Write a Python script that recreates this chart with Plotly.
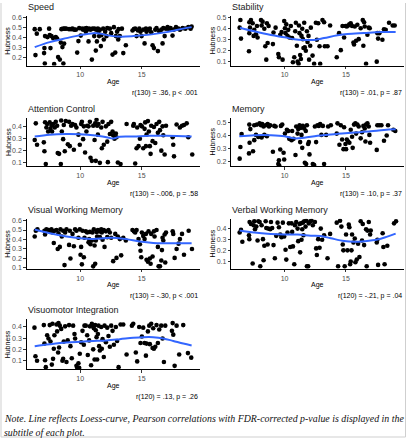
import plotly.graph_objects as go

# ---------------- data (age, hubness) ----------------
speed = [(6.31,.48),(6.48,.435),(6.37,.22),(6.72,.48),(7.15,.41),(7.10,.29),(7.07,.24),(7.13,.135),(7.48,.485),(7.35,.40),
(7.53,.42),(7.67,.41),(7.59,.29),(7.80,.39),(7.89,.13),(8.02,.40),(8.13,.385),(8.21,.20),(8.35,.175),(8.43,.345),
(8.48,.48),(8.56,.30),(8.64,.135),(8.62,.485),(8.75,.485),(8.70,.335),(8.86,.485),
(9.10,.48),(9.27,.48),(9.38,.485),(9.51,.475),(9.76,.245),(9.86,.36),(9.65,.475),(9.92,.49),(10.05,.415),(10.16,.485),
(10.24,.475),(10.38,.485),(10.51,.49),(10.46,.455),(10.57,.475),(10.68,.357),(10.73,.485),(10.84,.475),(10.95,.175),(11.00,.485),
(11.14,.41),(11.17,.485),(11.27,.265),(11.30,.475),(11.36,.357),(11.44,.485),(11.49,.455),(11.60,.475),(11.68,.31),(11.54,.41),
(11.73,.42),(11.87,.485),(11.92,.376),(12.03,.455),(12.14,.41),(12.20,.49),(12.41,.485),(12.52,.44),(12.63,.225),(12.74,.50),
(12.85,.245),(12.90,.41),(13.00,.455),(13.12,.48),(13.22,.41),(13.39,.485),(13.50,.24),(13.71,.318),(13.09,.376),
(14.25,.467),(14.36,.48),(14.47,.485),(14.58,.41),(14.69,.467),(14.80,.485),(14.90,.455),(14.99,.41),(15.12,.475),(15.23,.337),
(15.34,.485),(15.39,.455),(15.53,.475),(15.66,.485),(15.77,.448),(15.88,.318),(15.99,.29),(16.10,.475),(16.20,.49),(16.31,.26),
(16.42,.46),(16.59,.475),(16.69,.337),(16.75,.49),(16.86,.41),(16.97,.485),(17.10,.50),(17.24,.475),(17.34,.49),(17.50,.415),
(17.60,.475),(17.78,.50),(17.97,.485),(18.10,.475),(18.32,.49),(18.54,.485),(18.78,.50),(18.97,.485),(19.05,.505)]
speed_loess = [(6.31,.30),(7.53,.35),(8.89,.39),(10.0,.42),(11.06,.44),(11.6,.435),(12.4,.415),(13.22,.405),(14.31,.41),
(15.66,.425),(17.02,.45),(18.37,.485),(19.05,.50)]

stability = [(6.40,.48),(6.45,.31),(6.34,.41),(7.10,.195),(7.13,.46),(7.26,.48),(7.18,.41),(7.13,.36),(7.40,.45),(7.48,.335),
(7.53,.39),(7.67,.35),(7.75,.425),(7.80,.32),(8.08,.48),(8.13,.43),(8.21,.465),(8.35,.40),(8.43,.24),(8.51,.118),
(8.56,.45),(8.62,.27),(8.70,.425),(9.05,.26),(9.10,.365),(9.27,.41),(9.49,.17),(9.54,.14),(9.65,.345),(9.76,.37),
(9.84,.118),(9.97,.47),(10.03,.405),(10.08,.36),(10.14,.44),(10.24,.335),(10.30,.39),(10.40,.32),(10.51,.425),(10.62,.315),
(10.68,.094),(10.79,.14),(10.87,.377),(10.92,.455),(11.00,.245),(11.06,.10),(11.14,.08),(11.17,.43),(11.22,.36),(11.27,.16),
(11.33,.124),(11.38,.335),(11.44,.40),(11.49,.305),(11.54,.225),(11.60,.455),(11.65,.23),(11.73,.20),(11.82,.377),(11.87,.28),
(11.95,.335),(12.00,.118),(12.09,.245),(12.14,.41),(12.28,.155),(12.41,.08),(12.55,.455),(12.63,.30),(12.74,.45),(12.85,.24),
(12.90,.08),(13.09,.48),(13.22,.46),(13.28,.24),(13.50,.24),(13.71,.43),(14.25,.14),(14.44,.36),(14.58,.205),(14.72,.425),
(14.85,.32),(14.96,.425),(15.07,.42),(15.18,.43),(15.28,.44),(15.39,.45),(15.50,.425),(15.61,.275),(15.66,.256),(15.72,.42),
(15.83,.29),(15.93,.437),(16.04,.305),(16.20,.405),(16.37,.48),(16.42,.245),(16.48,.46),(16.53,.42),(16.64,.08),(16.75,.345),
(16.86,.41),(16.94,.405),(17.56,.36),(17.62,.31),(17.72,.36),(17.51,.10),(17.97,.30),(18.10,.395),(18.24,.39),(18.51,.455),
(18.81,.43),(18.97,.43)]
stability_loess = [(6.37,.41),(7.53,.377),(8.89,.343),(10.0,.322),(10.79,.305),(11.6,.298),(12.41,.298),(13.22,.315),
(14.31,.34),(15.12,.353),(16.48,.362),(17.83,.37),(19.05,.37)]

attention = [(6.31,.29),(6.40,.43),(6.50,.25),(7.05,.27),(7.10,.195),(7.15,.44),(7.21,.087),(7.26,.395),(7.32,.425),(7.40,.362),
(7.53,.438),(7.59,.384),(7.67,.41),(7.72,.362),(7.80,.425),(7.94,.395),(8.02,.443),(8.13,.41),(8.18,.18),(8.29,.173),
(8.43,.087),(8.46,.454),(8.51,.362),(8.62,.297),(8.67,.416),(8.75,.195),(8.83,.449),(9.00,.254),(9.10,.443),(9.16,.238),
(9.27,.41),(9.38,.425),(9.49,.208),(9.59,.416),(9.70,.395),(9.86,.335),(9.97,.25),(10.08,.425),(10.14,.443),(10.24,.297),
(10.30,.405),(10.40,.184),(10.51,.362),(10.57,.41),(10.68,.405),(10.79,.443),(10.84,.14),(10.95,.114),(11.06,.41),(11.17,.29),
(11.22,.43),(11.27,.114),(11.33,.46),(11.38,.41),(11.44,.335),(11.49,.425),(11.60,.097),(11.71,.395),(11.76,.22),(11.82,.443),
(11.92,.25),(12.09,.405),(12.20,.276),(12.25,.103),(12.30,.425),(12.41,.34),(12.52,.443),(12.63,.362),(12.68,.33),(12.79,.30),
(12.90,.345),(12.95,.313),(13.06,.10),(13.28,.087),(13.77,.425),(14.31,.41),(14.36,.425),(14.47,.092),(14.58,.22),(14.63,.395),
(14.74,.238),(14.85,.30),(14.90,.416),(15.01,.405),(15.12,.22),(15.23,.384),(15.28,.438),(15.34,.238),(15.39,.335),(15.50,.449),
(15.58,.362),(15.66,.238),(15.72,.173),(15.77,.41),(15.88,.28),(15.99,.40),(16.10,.265),(16.20,.425),(16.31,.35),(16.42,.443),
(16.48,.373),(16.59,.20),(16.69,.405),(16.75,.33),(16.86,.168),(16.97,.41),(17.51,.313),(17.56,.25),(17.62,.152),(17.83,.42),
(18.10,.395),(18.27,.41),(18.43,.416),(18.65,.43),(18.78,.313),(19.10,.168)]
attention_loess = [(6.31,.32),(7.53,.335),(8.89,.34),(10.0,.338),(11.06,.33),(12.14,.313),(12.68,.302),(13.22,.318),
(14.31,.32),(15.66,.325),(17.02,.325),(19.05,.32)]

memory = [(6.34,.222),(6.40,.313),(6.50,.414),(7.10,.263),(7.13,.487),(7.15,.346),(7.21,.452),(7.43,.28),(7.53,.366),(7.53,.482),
(7.67,.407),(7.75,.487),(7.86,.39),(7.97,.497),(8.08,.482),(8.13,.387),(8.18,.492),(8.29,.472),(8.35,.407),(8.46,.482),
(8.56,.397),(8.62,.492),(8.73,.472),(8.83,.482),(9.05,.276),(9.16,.477),(9.27,.472),(9.49,.18),(9.54,.21),(9.57,.167),
(9.65,.293),(9.70,.477),(9.81,.487),(9.92,.268),(9.97,.215),(10.03,.417),(10.19,.447),(10.30,.437),(10.38,.376),(10.57,.366),
(10.62,.437),(10.73,.376),(10.89,.25),(10.95,.472),(11.06,.417),(11.11,.452),(11.22,.482),(11.27,.351),(11.33,.462),(11.38,.407),
(11.44,.306),(11.49,.477),(11.60,.457),(11.65,.19),(11.73,.437),(11.76,.18),(11.82,.482),(11.92,.336),(11.98,.351),(12.03,.255),
(12.30,.18),(12.41,.172),(12.47,.472),(12.57,.351),(12.68,.482),(12.79,.477),(12.90,.492),(13.00,.407),(13.12,.477),(13.22,.18),
(13.39,.407),(13.55,.472),(13.77,.482),(14.25,.417),(14.31,.497),(14.47,.33),(14.58,.482),(14.69,.371),(14.80,.296),(14.85,.467),
(14.96,.336),(15.01,.296),(15.07,.371),(15.18,.356),(15.28,.346),(15.39,.447),(15.50,.392),(15.55,.306),(15.66,.487),(15.77,.497),
(15.83,.417),(15.93,.487),(16.04,.472),(16.20,.38),(16.31,.427),(16.42,.477),(16.53,.457),(16.59,.356),(16.64,.487),(16.75,.497),
(16.86,.472),(16.91,.407),(16.97,.346),(17.51,.29),(17.56,.482),(17.72,.482),(17.89,.482),(18.10,.361),(18.32,.402),(18.43,.482),
(18.86,.447),(19.02,.437)]
memory_loess = [(6.31,.397),(7.53,.405),(8.89,.405),(10.0,.397),(10.79,.38),(11.6,.385),(12.68,.40),(14.31,.415),
(15.66,.425),(17.02,.435),(18.1,.445),(19.05,.45)]

visual_wm = [(6.31,.432),(6.40,.493),(6.53,.507),(7.10,.493),(7.15,.452),(7.26,.507),(7.43,.50),(7.53,.486),(7.67,.507),(7.75,.473),
(7.86,.363),(7.94,.493),(8.08,.50),(8.18,.30),(8.24,.466),(8.35,.322),(8.40,.507),(8.51,.432),(8.62,.493),(8.73,.13),
(8.78,.473),(8.89,.507),(9.10,.343),(9.16,.493),(9.21,.20),(9.38,.459),(9.49,.329),(9.59,.507),(9.70,.493),(9.86,.418),
(9.97,.507),(10.03,.24),(10.08,.322),(10.14,.138),(10.19,.493),(10.30,.213),(10.35,.418),(10.46,.486),(10.57,.473),(10.68,.37),
(10.73,.404),(10.79,.48),(10.84,.35),(10.95,.39),(11.00,.473),(11.06,.117),(11.11,.507),(11.17,.336),(11.22,.144),(11.27,.39),
(11.33,.48),(11.38,.432),(11.44,.50),(11.54,.486),(11.60,.425),(11.71,.507),(11.76,.473),(11.82,.397),(11.92,.50),(11.98,.322),
(12.09,.486),(12.20,.425),(12.30,.50),(12.41,.473),(12.52,.418),(12.68,.172),(12.85,.459),(12.95,.206),(13.06,.432),(13.22,.404),
(13.33,.233),(13.50,.418),(13.71,.39),(14.25,.50),(14.36,.486),(14.47,.473),(14.58,.50),(14.74,.404),(14.85,.35),(14.90,.281),
(14.96,.213),(15.01,.473),(15.12,.438),(15.23,.404),(15.34,.459),(15.39,.186),(15.50,.165),(15.55,.486),(15.66,.20),(15.72,.144),
(15.77,.459),(15.88,.22),(15.99,.486),(16.04,.432),(16.20,.50),(16.31,.322),(16.37,.117),(16.48,.117),(16.59,.179),(16.64,.288),
(16.69,.418),(16.75,.39),(16.86,.452),(16.91,.158),(16.97,.473),(17.51,.486),(17.56,.459),(17.67,.206),(17.83,.30),(17.99,.356),
(18.10,.404),(18.27,.459),(18.43,.24),(18.81,.493),(19.08,.30)]
visual_wm_loess = [(6.31,.505),(7.53,.466),(8.89,.432),(10.0,.413),(11.06,.406),(12.14,.416),(12.95,.416),(13.77,.404),
(14.85,.378),(15.93,.363),(17.02,.36),(18.1,.36),(19.05,.36)]

verbal_wm = [(6.34,.362),(6.45,.386),(6.56,.278),(7.10,.338),(7.13,.302),(7.15,.458),(7.26,.44),(7.40,.08),(7.48,.428),(7.53,.465),
(7.59,.392),(7.70,.416),(7.80,.29),(7.86,.465),(7.97,.458),(8.02,.056),(8.13,.428),(8.24,.302),(8.29,.11),(8.35,.242),
(8.46,.465),(8.51,.404),(8.62,.254),(8.67,.398),(8.83,.392),(8.89,.458),(8.99,.404),(9.10,.248),(9.21,.128),(9.32,.332),
(9.43,.452),(9.54,.41),(9.65,.344),(9.75,.32),(9.86,.452),(9.97,.326),(10.08,.206),(10.14,.116),(10.24,.362),(10.35,.446),
(10.46,.23),(10.57,.446),(10.62,.368),(10.68,.236),(10.79,.074),(10.84,.428),(10.95,.458),(11.06,.398),(11.11,.284),(11.22,.44),
(11.27,.182),(11.33,.446),(11.38,.296),(11.44,.392),(11.49,.452),(11.54,.338),(11.60,.465),(11.71,.416),(11.76,.47),(11.82,.056),
(11.92,.056),(11.98,.446),(12.09,.465),(12.20,.47),(12.30,.428),(12.47,.458),(12.57,.218),(12.63,.158),(12.74,.302),(12.85,.224),
(12.95,.398),(13.06,.296),(13.22,.338),(13.50,.128),(13.71,.35),(14.25,.452),(14.36,.056),(14.52,.47),(14.63,.416),(14.74,.254),
(14.79,.20),(14.90,.056),(15.01,.344),(15.12,.20),(15.23,.434),(15.28,.41),(15.34,.074),(15.39,.098),(15.45,.20),(15.50,.344),
(15.61,.272),(15.72,.308),(15.77,.092),(15.88,.116),(15.99,.26),(16.10,.14),(16.20,.465),(16.31,.29),(16.37,.44),(16.48,.248),
(16.64,.392),(16.69,.056),(16.75,.38),(16.86,.458),(16.97,.344),(17.02,.38),(17.51,.272),(17.56,.296),(17.62,.068),(17.99,.356),
(18.05,.23),(18.15,.074),(18.37,.242),(18.92,.446),(19.08,.465)]
verbal_wm_loess = [(6.34,.38),(7.53,.362),(8.89,.35),(10.0,.345),(11.06,.344),(12.14,.334),(12.95,.33),(13.77,.31),
(14.85,.285),(15.66,.278),(16.48,.283),(17.56,.298),(18.37,.325),(19.05,.352)]

visuomotor = [(6.29,.394),(6.37,.135),(6.50,.095),(7.05,.417),(7.10,.25),(7.15,.10),(7.21,.037),(7.32,.325),(7.43,.296),(7.53,.417),
(7.59,.268),(7.70,.06),(7.75,.429),(7.80,.112),(7.86,.204),(7.91,.325),(8.08,.423),(8.13,.36),(8.21,.17),(8.24,.435),
(8.29,.215),(8.35,.412),(8.46,.383),(8.56,.095),(8.62,.112),(8.67,.268),(8.78,.406),(8.89,.083),(8.99,.279),(9.10,.417),
(9.21,.227),(9.32,.118),(9.43,.412),(9.54,.337),(9.59,.296),(9.70,.049),(9.76,.031),(9.86,.072),(9.92,.031),(9.97,.158),
(10.08,.262),(10.19,.365),(10.30,.239),(10.35,.412),(10.46,.412),(10.57,.325),(10.62,.147),(10.73,.279),(10.79,.406),(10.89,.054),
(10.95,.429),(11.00,.412),(11.06,.198),(11.11,.388),(11.17,.106),(11.22,.417),(11.27,.371),(11.33,.308),(11.38,.106),(11.44,.337),
(11.49,.412),(11.54,.227),(11.60,.187),(11.71,.40),(11.76,.204),(11.82,.29),(11.92,.129),(11.98,.412),(12.09,.262),(12.20,.394),
(12.30,.319),(12.41,.221),(12.52,.412),(12.63,.365),(12.74,.239),(12.90,.40),(13.00,.273),(13.12,.037),(13.28,.423),(13.50,.423),
(13.77,.152),(14.20,.412),(14.31,.429),(14.52,.17),(14.63,.089),(14.79,.40),(14.90,.256),(15.01,.314),(15.12,.394),(15.23,.256),
(15.34,.141),(15.39,.25),(15.50,.36),(15.61,.412),(15.66,.245),(15.77,.429),(15.88,.21),(15.93,.388),(15.99,.204),(16.10,.221),
(16.20,.417),(16.31,.256),(16.42,.377),(16.58,.412),(16.69,.296),(16.80,.083),(16.91,.412),(17.45,.365),(17.51,.435),(17.56,.331),
(17.67,.049),(17.83,.412),(18.04,.152),(18.37,.417),(18.75,.164),(19.02,.123)]
visuomotor_loess = [(6.31,.227),(7.53,.244),(8.89,.26),(10.0,.267),(11.06,.273),(12.14,.279),(13.22,.29),(14.31,.302),
(15.12,.308),(15.93,.308),(16.75,.297),(17.56,.274),(18.37,.25),(19.05,.232)]

titles = ["Speed", "Stability", "Attention Control", "Memory",
          "Visual Working Memory", "Verbal Working Memory", "Visuomotor Integration"]
subtitles = ["r(130) = .36, p < .001", "r(130) = .01, p = .87", "r(130) = -.006, p = .58",
             "r(130) = .10, p = .37", "r(130) = -.30, p < .001", "r(120) = -.21, p = .04",
             "r(120) = .13, p = .26"]
x_ticks = [10, 15]
y_ticks = [[0.2, 0.3, 0.4, 0.5, 0.6], [0.1, 0.2, 0.3, 0.4, 0.5], [0.1, 0.2, 0.3, 0.4],
           [0.2, 0.3, 0.4, 0.5], [0.1, 0.2, 0.3, 0.4, 0.5, 0.6], [0.1, 0.2, 0.3, 0.4],
           [0.1, 0.2, 0.3, 0.4]]
note_lines = ["Note. Line reflects Loess-curve, Pearson correlations with FDR-corrected p-value is displayed in the",
              "subtitle of each plot."]

series = [speed, stability, attention, memory, visual_wm, verbal_wm, visuomotor]
loess = [speed_loess, stability_loess, attention_loess, memory_loess,
         visual_wm_loess, verbal_wm_loess, visuomotor_loess]

# ---------------- layout geometry (pixels) ----------------
W, H = 407, 440
cols = [(26.7, 200.0), (231.3, 404.0)]
rows = [(13.3, 63.3), (116.0, 165.3), (218.3, 269.0), (320.0, 370.7)]
y_ranges = [[0.115, 0.61], [0.064, 0.515], [0.067, 0.478], [0.1615, 0.541],
            [0.0896, 0.618], [0.031, 0.487], [0.016, 0.469]]
x_range = [5.66, 19.73]

def fx(p):
    return p / W

def fy(p):
    return 1 - p / H

FONT = "Liberation Sans, Arial, sans-serif"
fig = go.Figure()
annotations = []
layout_axes = {}

for i in range(7):
    r, c = divmod(i, 2)
    x0, x1 = cols[c]
    y0, y1 = rows[r]
    n = i + 1
    xa = "x" if n == 1 else f"x{n}"
    ya = "y" if n == 1 else f"y{n}"
    pts = series[i]
    fig.add_trace(go.Scatter(x=[p[0] for p in pts], y=[p[1] for p in pts], mode="markers",
                             marker=dict(color="black", size=4.6, line=dict(width=0)),
                             xaxis=xa, yaxis=ya, showlegend=False, hoverinfo="skip"))
    lo = loess[i]
    fig.add_trace(go.Scatter(x=[p[0] for p in lo], y=[p[1] for p in lo], mode="lines",
                             line=dict(color="#3366FF", width=2, shape="spline", smoothing=1.0),
                             xaxis=xa, yaxis=ya, showlegend=False, hoverinfo="skip"))
    common = dict(showline=True, linecolor="black", linewidth=0.9, ticks="outside", ticklen=2.5,
                  tickwidth=0.8, tickcolor="#333333", showgrid=False, zeroline=False,
                  tickfont=dict(family=FONT, size=7, color="#4d4d4d"))
    layout_axes["xaxis" if n == 1 else f"xaxis{n}"] = dict(
        domain=[fx(x0), fx(x1)], range=x_range, anchor=ya, tickvals=x_ticks, **common)
    layout_axes["yaxis" if n == 1 else f"yaxis{n}"] = dict(
        domain=[fy(y1), fy(y0)], range=y_ranges[i], anchor=xa, tickvals=y_ticks[i],
        tickformat=".1f", **common)
    annotations.append(dict(text=titles[i], x=fx(x0 - 1), y=fy(y0 - 9.0), xref="paper", yref="paper",
                            xanchor="left", yanchor="middle", showarrow=False,
                            font=dict(family=FONT, size=9, color="#1a1a1a")))
    annotations.append(dict(text="Hubness", x=fx(x0 - 18.8), y=fy((y0 + y1) / 2), xref="paper", yref="paper",
                            xanchor="center", yanchor="middle", textangle=-90, showarrow=False,
                            font=dict(family=FONT, size=7, color="black")))
    annotations.append(dict(text="Age", x=fx((x0 + x1) / 2), y=fy(y1 + 16.4), xref="paper", yref="paper",
                            xanchor="center", yanchor="middle", showarrow=False,
                            font=dict(family=FONT, size=7, color="black")))
    annotations.append(dict(text=subtitles[i], x=fx(x1), y=fy(y1 + 27.7), xref="paper", yref="paper",
                            xanchor="right", yanchor="middle", showarrow=False,
                            font=dict(family=FONT, size=7, color="black")))

for k, line in enumerate(note_lines):
    annotations.append(dict(text=f"<i>{line}</i>", x=fx(1.5), y=fy(420.5 + 13.8 * k), xref="paper", yref="paper",
                            xanchor="left", yanchor="middle", showarrow=False,
                            font=dict(family="Liberation Serif, serif", size=9.9, color="#111111")))

shapes = [
    dict(type="line", xref="paper", yref="paper", x0=fx(1), x1=fx(1), y0=fy(439), y1=1, line=dict(color="#cfcfcf", width=1)),
    dict(type="line", xref="paper", yref="paper", x0=fx(405.5), x1=fx(405.5), y0=fy(439), y1=1, line=dict(color="#cfcfcf", width=1)),
    dict(type="line", xref="paper", yref="paper", x0=fx(1), x1=fx(405.5), y0=fy(439), y1=fy(439), line=dict(color="#cfcfcf", width=1)),
]

fig.update_layout(width=W, height=H, margin=dict(l=0, r=0, t=0, b=0), paper_bgcolor="white",
                  plot_bgcolor="white", annotations=annotations, shapes=shapes, **layout_axes)
fig.write_html("out.html", include_plotlyjs=True, config={"displayModeBar": False})

# remove the browser's default page margin so the 407x440 figure fills the window exactly
with open("out.html", encoding="utf-8") as fh:
    html = fh.read()
html = html.replace("<head>", "<head><style>html,body{margin:0;padding:0;overflow:hidden;}</style>", 1)
with open("out.html", "w", encoding="utf-8") as fh:
    fh.write(html)
